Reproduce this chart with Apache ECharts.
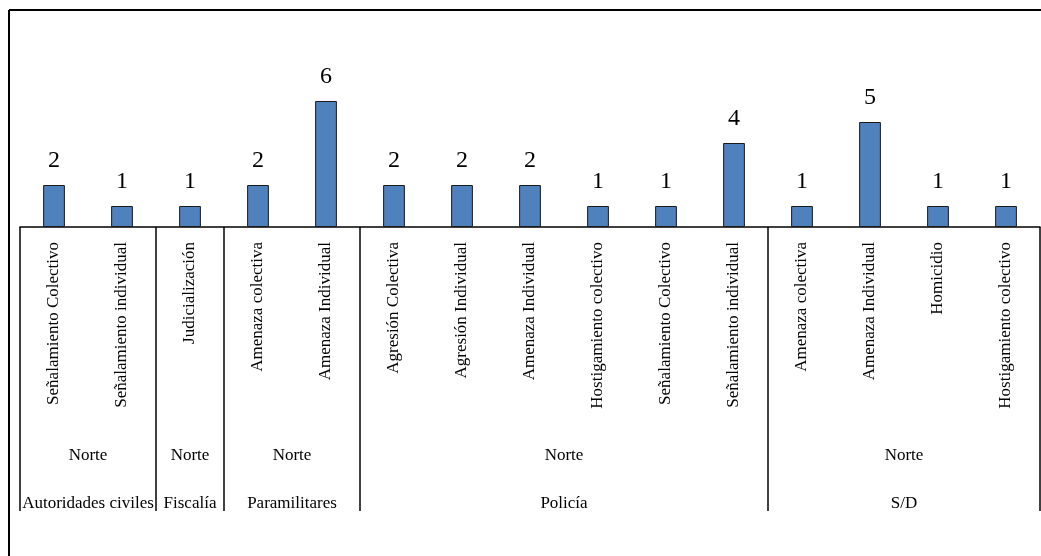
<!DOCTYPE html>
<html>
<head>
<meta charset="utf-8">
<script src="https://cdn.jsdelivr.net/npm/echarts@6/dist/echarts.min.js"></script>
<style>
  html, body { margin: 0; padding: 0; background: #fff; }
  #chart { width: 1041px; height: 556px; }
</style>
</head>
<body>
<div id="chart"></div>
<script>
const categories = [
  'Señalamiento Colectivo', 'Señalamiento individual',
  'Judicialización',
  'Amenaza colectiva', 'Amenaza Individual',
  'Agresión Colectiva', 'Agresión Individual', 'Amenaza Individual',
  'Hostigamiento colectivo', 'Señalamiento Colectivo', 'Señalamiento individual',
  'Amenaza colectiva', 'Amenaza Individual', 'Homicidio', 'Hostigamiento colectivo'
]
const values = [2, 1, 1, 2, 6, 2, 2, 2, 1, 1, 4, 1, 5, 1, 1]
const groupNames = ['Autoridades civiles', 'Fiscalía', 'Paramilitares', 'Policía', 'S/D']
const groupSizes = [2, 1, 2, 6, 4]
const regionNames = ['Norte', 'Norte', 'Norte', 'Norte', 'Norte']

const font = '"Liberation Serif", "DejaVu Serif", serif'
const chart = echarts.init(document.getElementById('chart'))

chart.setOption({
  animation: false,
  grid: { left: 20, right: 1, top: 59, bottom: 329 },
  xAxis: {
    type: 'category',
    data: categories,
    axisLine: { lineStyle: { color: '#000', width: 1.5 } },
    axisTick: { show: false },
    axisLabel: {
      interval: 0,
      rotate: 90,
      margin: 15,
      fontFamily: font,
      fontSize: 17,
      color: '#000'
    }
  },
  yAxis: { type: 'value', min: 0, max: 8, show: false },
  series: [{
    type: 'bar',
    data: values,
    barWidth: '32%',
    itemStyle: { color: '#4F81BD', borderColor: '#1a1a1a', borderWidth: 1 },
    label: {
      show: true,
      position: 'top',
      distance: 12,
      fontFamily: font,
      fontSize: 24,
      color: '#000'
    }
  }]
})

// group rows and dividers below the axis
const base = chart.convertToPixel({ yAxisIndex: 0 }, 0)
const half = (chart.convertToPixel({ xAxisIndex: 0 }, 1) - chart.convertToPixel({ xAxisIndex: 0 }, 0)) / 2
const elements = [
  { type: 'line', shape: { x1: 9, y1: 10, x2: 1041, y2: 10 }, style: { stroke: '#000', lineWidth: 2 } },
  { type: 'line', shape: { x1: 9, y1: 10, x2: 9, y2: 556 }, style: { stroke: '#000', lineWidth: 2 } }
]
let start = 0
const edges = [chart.convertToPixel({ xAxisIndex: 0 }, 0) - half]
groupSizes.forEach((n, g) => {
  const x0 = chart.convertToPixel({ xAxisIndex: 0 }, start) - half
  const x1 = chart.convertToPixel({ xAxisIndex: 0 }, start + n - 1) + half
  edges.push(x1)
  const cx = (x0 + x1) / 2
  elements.push({
    type: 'text', x: cx, y: base + 229,
    style: { text: regionNames[g], font: '17px ' + font, fill: '#000', align: 'center', verticalAlign: 'middle' }
  })
  elements.push({
    type: 'text', x: cx, y: base + 277,
    style: { text: groupNames[g], font: '17px ' + font, fill: '#000', align: 'center', verticalAlign: 'middle' }
  })
  start += n
})
edges.forEach(x => {
  elements.push({
    type: 'line',
    shape: { x1: Math.min(x, 1040), y1: base, x2: Math.min(x, 1040), y2: base + 284 },
    style: { stroke: '#000', lineWidth: 1.5 }
  })
})
chart.setOption({ graphic: elements })
</script>
</body>
</html>
